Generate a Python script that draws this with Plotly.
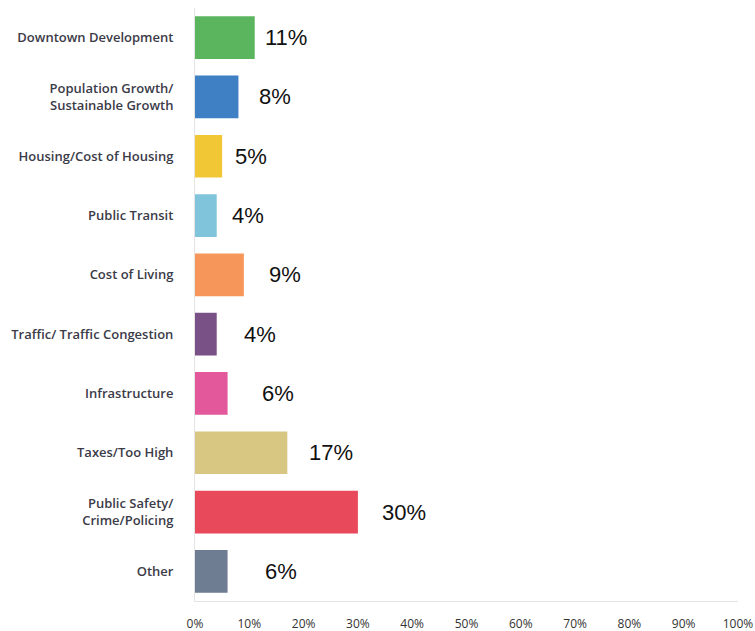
import plotly.graph_objects as go

# Survey responses: most important issue facing the city
categories = [
    "Downtown Development",
    "Population Growth/<br>Sustainable Growth",
    "Housing/Cost of Housing",
    "Public Transit",
    "Cost of Living",
    "Traffic/ Traffic Congestion",
    "Infrastructure",
    "Taxes/Too High",
    "Public Safety/<br>Crime/Policing",
    "Other",
]
values = [11, 8, 5, 4, 9, 4, 6, 17, 30, 6]
value_labels = ["11%", "8%", "5%", "4%", "9%", "4%", "6%", "17%", "30%", "6%"]
tick_values = [0, 10, 20, 30, 40, 50, 60, 70, 80, 90, 100]
tick_labels = ["0%", "10%", "20%", "30%", "40%", "50%", "60%", "70%", "80%", "90%", "100%"]

bar_colors = [
    "#5bb45e", "#3f7fc4", "#f1c736", "#80c4dc", "#f7965a",
    "#7a5186", "#e2589b", "#d8c683", "#e8495b", "#6e7d91",
]
# horizontal gap (px) between each bar end and its value label
label_gaps = [8, 19, 11, 13, 23, 25, 32, 20, 22, 35]

fig = go.Figure()
fig.add_trace(go.Bar(
    y=categories,
    x=values,
    orientation="h",
    marker=dict(color=bar_colors, line=dict(width=0)),
    width=0.72,
    hoverinfo="skip",
))

for cat, v, lab, gap in zip(categories, values, value_labels, label_gaps):
    fig.add_annotation(
        x=v, y=cat, text=lab, showarrow=False,
        xanchor="left", yanchor="middle", xshift=gap,
        font=dict(family="Liberation Sans, Arial", size=22, color="#111111"),
    )

fig.update_layout(
    width=755, height=631,
    margin=dict(l=195, r=17, t=8, b=30),
    paper_bgcolor="white", plot_bgcolor="white",
    showlegend=False,
    bargap=0.28,
)
fig.update_xaxes(
    range=[0, 100], automargin=False,
    tickvals=tick_values, ticktext=tick_labels,
    showgrid=False, zeroline=False,
    showline=True, linecolor="#e4e4e4", linewidth=1,
    ticks="", ticklabelstandoff=12,
    tickfont=dict(family="Open Sans", size=12, color="#333333"),
)
fig.update_yaxes(
    autorange="reversed", automargin=False,
    showgrid=False, zeroline=False,
    showline=True, linecolor="#e4e4e4", linewidth=1,
    ticks="", ticklabelstandoff=18,
    tickfont=dict(family="Open Sans", size=13, color="#3b3b48", weight=600),
)

fig.write_html("out.html")
